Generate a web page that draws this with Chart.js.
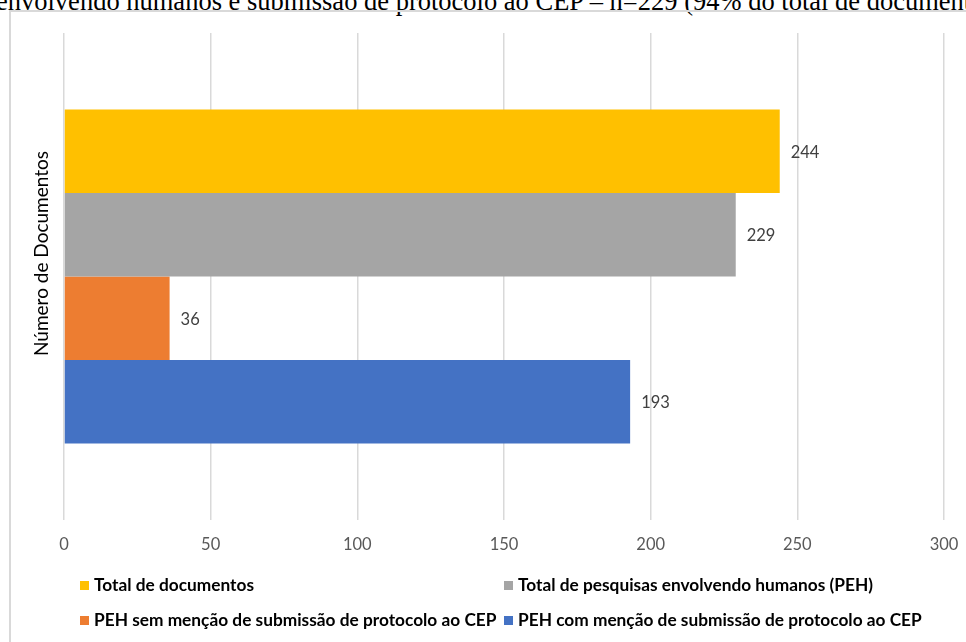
<!DOCTYPE html>
<html lang="pt">
<head>
<meta charset="utf-8">
<title>Número de Documentos</title>
<script src="https://cdn.jsdelivr.net/npm/chart.js@4"></script>
<style>
    html, body { margin: 0; padding: 0; background: #fff; }
    #pagina { position: relative; width: 966px; height: 642px; overflow: hidden; background: #fff; }
    #textoTopo {
        position: absolute; left: -4px; top: -12px; white-space: nowrap;
        font-family: "Liberation Serif", "DejaVu Serif", serif; font-size: 26.5px; line-height: 26.5px; color: #000;
    }
    #moldura { position: absolute; left: 9px; top: 10px; width: 1000px; height: 700px; border: 2px solid #d9d9d9; }
    #grafico { position: absolute; left: 0; top: 0; }
    #legenda {
        position: absolute; left: 80px; top: 574px;
        display: grid; grid-template-columns: 424px auto; row-gap: 13px;
        font-family: Lato, "Noto Sans", sans-serif; font-weight: bold; font-size: 17.3px; color: #000;
    }
    .item { display: flex; align-items: center; line-height: 22px; white-space: nowrap; }
    .marca { width: 9px; height: 9px; margin-right: 5px; }
</style>
</head>
<body>
<div id="pagina">
    <div id="textoTopo">envolvendo humanos e submissão de protocolo ao CEP – n=229 (94% do total de documentos)</div>
    <div id="moldura"></div>
    <canvas id="grafico" width="966" height="642"></canvas>
    <div id="legenda"></div>
</div>
<script>
const categorias = ['Número de Documentos'];
const series = [
    'Total de documentos',
    'Total de pesquisas envolvendo humanos (PEH)',
    'PEH sem menção de submissão de protocolo ao CEP',
    'PEH com menção de submissão de protocolo ao CEP'
];
const valores = [244, 229, 36, 193];
const cores = ['#FFC000', '#A5A5A5', '#ED7D31', '#4472C4'];
const ticksX = [0, 50, 100, 150, 200, 250, 300];

document.addEventListener("DOMContentLoaded", function() {
    const datasets = series.map((nome, i) => ({
        label: nome,
        data: [valores[i]],
        backgroundColor: cores[i],
        borderWidth: 0,
        categoryPercentage: 0.686,
        barPercentage: 1
    }));

    // rótulos de valor ao lado de cada barra
    const rotulos = {
        id: 'rotulos',
        afterDatasetsDraw(chart) {
            const ctx = chart.ctx;
            ctx.save();
            ctx.font = '16.5px Lato, "Noto Sans", sans-serif';
            ctx.fillStyle = '#404040';
            ctx.textBaseline = 'middle';
            chart.data.datasets.forEach((ds, i) => {
                chart.getDatasetMeta(i).data.forEach((barra, j) => {
                    ctx.fillText(ds.data[j], barra.x + 11, barra.y + 1);
                });
            });
            ctx.restore();
        }
    };

    // título do eixo vertical (Excel o coloca um pouco acima do centro)
    const tituloEixo = {
        id: 'tituloEixo',
        afterDraw(chart) {
            const ctx = chart.ctx;
            const area = chart.chartArea;
            ctx.save();
            ctx.translate(42, (area.top + area.bottom) / 2 - 23);
            ctx.rotate(-Math.PI / 2);
            ctx.font = '19px Lato, "Noto Sans", sans-serif';
            ctx.fillStyle = '#000';
            ctx.textAlign = 'center';
            ctx.textBaseline = 'middle';
            ctx.fillText(categorias[0], 0, 0);
            ctx.restore();
        }
    };

    new Chart(document.getElementById('grafico'), {
        type: 'bar',
        data: { labels: categorias, datasets: datasets },
        options: {
            indexAxis: 'y',
            responsive: false,
            animation: false,
            layout: { padding: { top: 33, right: 22, left: 0, bottom: 0 } },
            plugins: { legend: { display: false }, tooltip: { enabled: false } },
            scales: {
                x: {
                    min: ticksX[0],
                    max: ticksX[ticksX.length - 1],
                    afterBuildTicks: scale => { scale.ticks = ticksX.map(v => ({ value: v })); },
                    afterFit: scale => {
                        scale.height = 122;
                        scale.paddingLeft = 0;
                        scale.paddingRight = 0;
                    },
                    grid: { color: '#d9d9d9', lineWidth: 1.5, drawTicks: false },
                    border: { display: false },
                    ticks: {
                        padding: 15,
                        color: '#595959',
                        font: { family: 'Lato, "Noto Sans", sans-serif', size: 16.5 }
                    }
                },
                y: {
                    afterFit: scale => { scale.width = 64; },
                    grid: { display: false },
                    border: { display: false },
                    ticks: { display: false }
                }
            }
        },
        plugins: [rotulos, tituloEixo]
    });

    const legenda = document.getElementById('legenda');
    series.forEach((nome, i) => {
        const item = document.createElement('div');
        item.className = 'item';
        const marca = document.createElement('span');
        marca.className = 'marca';
        marca.style.background = cores[i];
        const texto = document.createElement('span');
        texto.textContent = nome;
        item.appendChild(marca);
        item.appendChild(texto);
        legenda.appendChild(item);
    });
});
</script>
</body>
</html>
